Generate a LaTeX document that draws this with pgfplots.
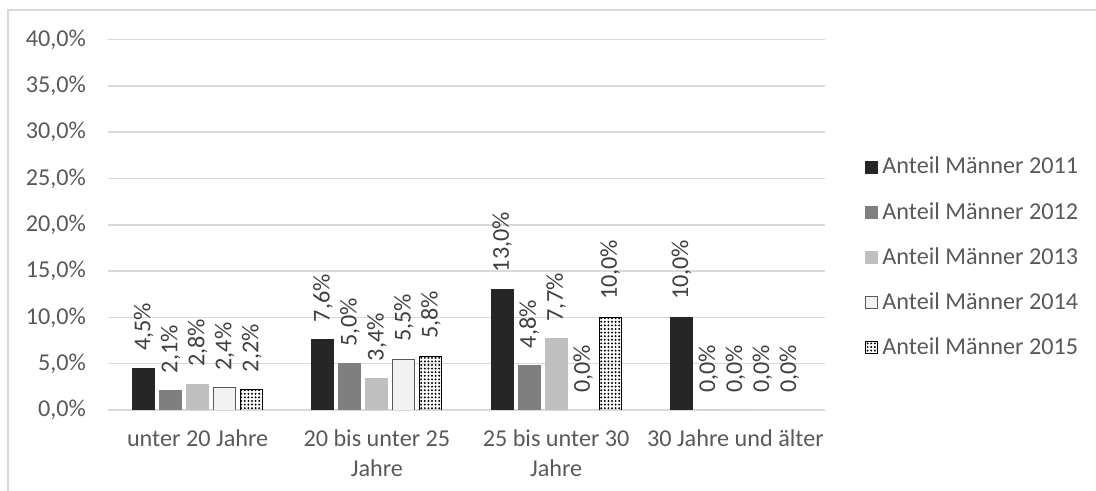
\documentclass[border=0pt]{standalone}
\usepackage{pgfplots}
\pgfplotsset{compat=1.18}
\usepackage{fontspec}
\setmainfont{Carlito}
\usetikzlibrary{patterns.meta}
\definecolor{c11}{HTML}{262626}
\definecolor{c12}{HTML}{7F7F7F}
\definecolor{c13}{HTML}{BFBFBF}
\definecolor{c14}{HTML}{F2F2F2}
\definecolor{txt}{HTML}{595959}
\definecolor{lbl}{HTML}{404040}
\definecolor{gridc}{HTML}{D9D9D9}
\begin{document}
\begin{tikzpicture}
\useasboundingbox (0,0) rectangle (548pt,245.5pt);
\draw[gridc, line width=0.8pt] (4pt,-5pt) -- (4pt,240.5pt) -- (560pt,240.5pt);
\begin{axis}[
  at={(54pt,40.5pt)}, anchor=south west,
  scale only axis, width=358.5pt, height=185.25pt,
  ybar=2.5pt, bar width=11pt,
  xmin=-0.5, xmax=3.5, ymin=0, ymax=40,
  xtick={0,1,2,3},
  xticklabels={unter 20 Jahre, 20 bis unter 25\\Jahre, 25 bis unter 30\\Jahre, 30 Jahre und älter},
  ytick={0,5,...,40},
  yticklabel={\pgfmathprintnumber[fixed,fixed zerofill,precision=1,use comma]{\tick}\%},
  /pgf/number format/assume math mode=true,
  major tick length=0pt,
  ymajorgrids, grid style={draw=gridc, line width=0.8pt},
  separate axis lines,
  axis x line*=bottom, axis y line*=left,
  x axis line style={draw=gridc, line width=1.2pt, -},
  y axis line style={draw=none},
  tick label style={font=\fontsize{12.1}{15}\selectfont, text=txt},
  xticklabel style={align=center, yshift=-6.5pt},
  yticklabel style={xshift=-7.5pt},
  nodes near coords={\pgfmathprintnumber[fixed,fixed zerofill,precision=1,use comma]{\pgfplotspointmeta}\%},
  every node near coord/.append style={rotate=90, anchor=west, inner xsep=8.5pt, inner ysep=0pt, font=\fontsize{12.1}{14}\selectfont, text=lbl},
  legend style={draw=none, fill=none, at={(1.0558,0.4116)}, anchor=west, inner sep=0pt, row sep=8.7pt,
    font=\fontsize{12.1}{14}\selectfont, text=txt, cells={anchor=west}},
  legend image code/.code={\draw[#1, line width=0.5pt] (0pt,-3pt) rectangle (6pt,3pt);},
  legend cell align=left,
]
\addplot[fill=c11, draw=c11] coordinates {(0,4.5) (1,7.6) (2,13.0) (3,10.0)};
\addplot[fill=c12, draw=c12] coordinates {(0,2.1) (1,5.0) (2,4.8) (3,0.0)};
\addplot[fill=c13, draw=c13] coordinates {(0,2.8) (1,3.4) (2,7.7) (3,0.0)};
\addplot[fill=c14, draw=txt] coordinates {(0,2.4) (1,5.5) (2,0.0) (3,0.0)};
\addplot[fill=white, draw=black, pattern={Dots[distance=1.8pt, radius=0.55pt]}, pattern color=black] coordinates {(0,2.2) (1,5.8) (2,10.0) (3,0.0)};
\legend{Anteil Männer 2011, Anteil Männer 2012, Anteil Männer 2013, Anteil Männer 2014, Anteil Männer 2015}
\end{axis}
\end{tikzpicture}
\end{document}
